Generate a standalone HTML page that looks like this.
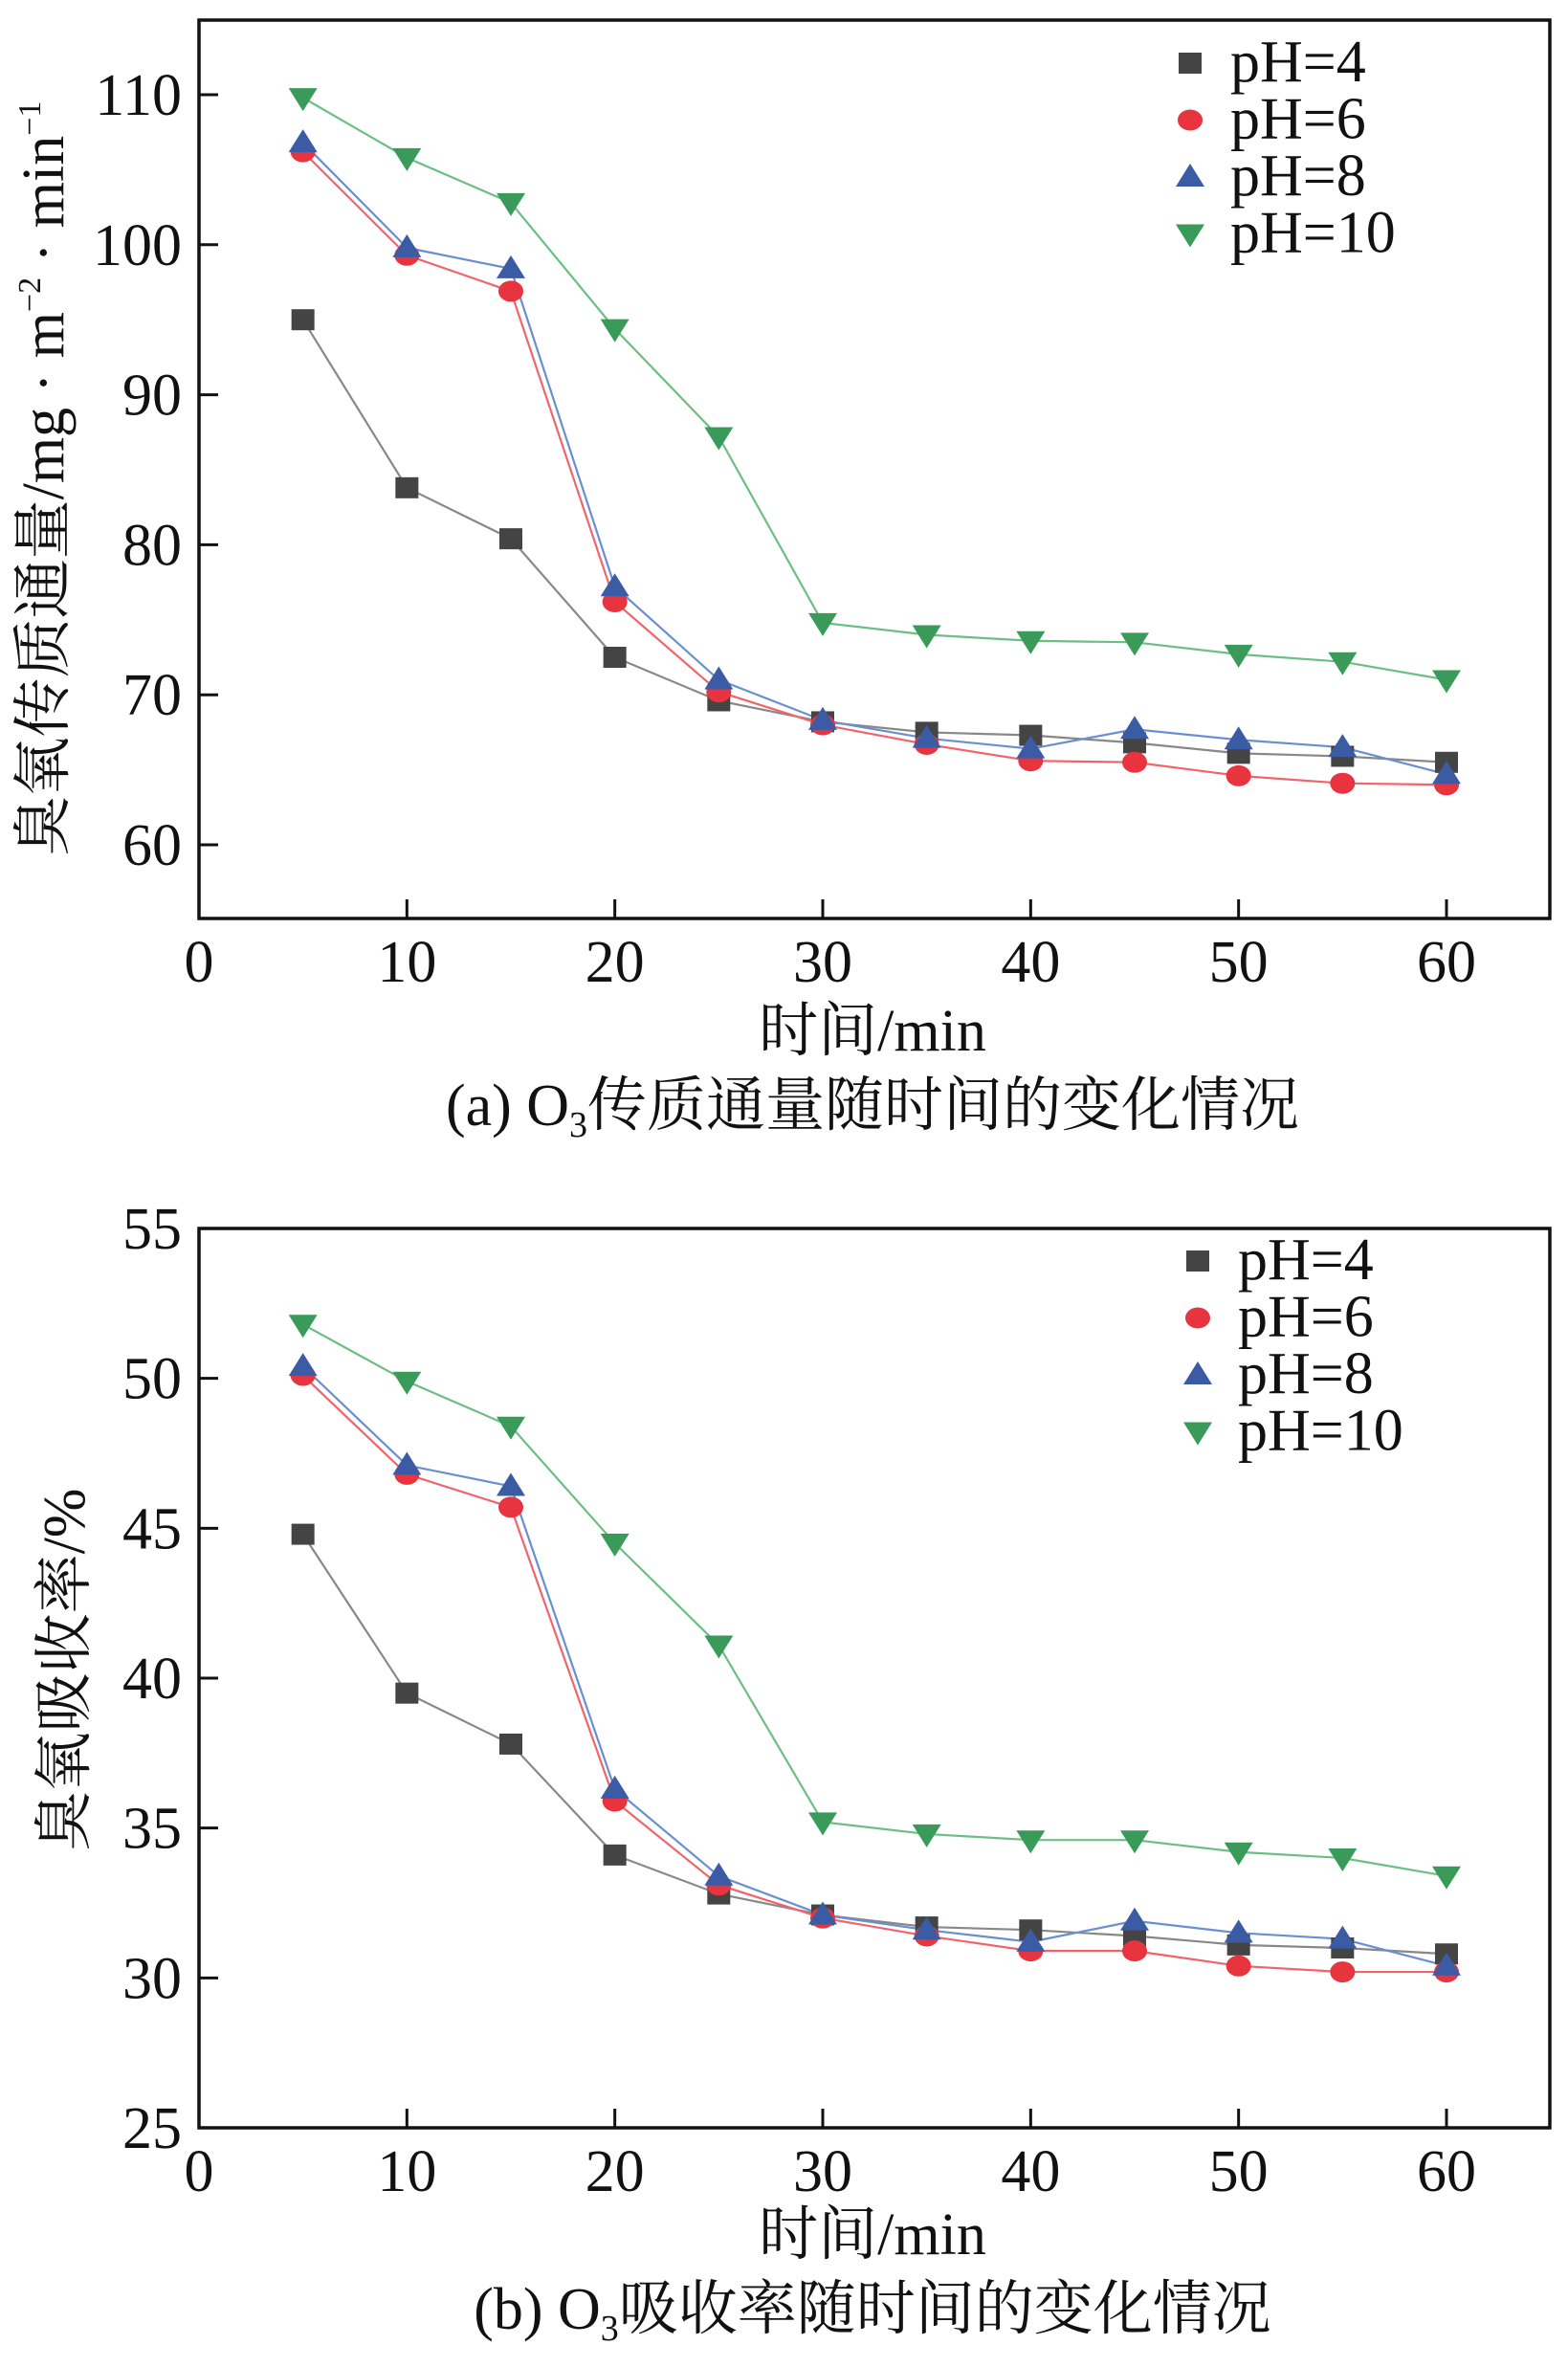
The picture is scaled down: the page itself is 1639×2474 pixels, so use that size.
<!DOCTYPE html>
<html><head><meta charset="utf-8"><style>
html,body{margin:0;padding:0;background:#fff}
svg{display:block}
text{font-family:"Liberation Serif","Noto Serif CJK SC","Noto Sans CJK SC",serif;fill:#111}
</style></head><body>
<svg id="fig" width="1639" height="2474" viewBox="0 0 1639 2474" xmlns="http://www.w3.org/2000/svg"></svg>
<script>
const times = [5,10,15,20,25,30,35,40,45,50,55,60];
const seriesLabels = ["pH=4","pH=6","pH=8","pH=10"];
const fluxPH4 = [95,83.8,80.4,72.5,69.6,68.2,67.5,67.3,66.8,66.1,65.9,65.5];
const fluxPH6 = [106.2,99.3,96.9,76.2,70.2,68.0,66.7,65.6,65.5,64.6,64.1,64.0];
const fluxPH8 = [106.8,99.8,98.4,77.2,71.0,68.3,67.1,66.4,67.7,67.0,66.5,64.7];
const fluxPH10 = [109.8,105.8,102.8,94.4,87.2,74.8,74.0,73.6,73.5,72.7,72.2,71.0];
const absPH4 = [44.8,39.5,37.8,34.1,32.8,32.1,31.7,31.6,31.4,31.1,31.0,30.8];
const absPH6 = [50.1,46.8,45.7,35.9,33.1,32.0,31.4,30.9,30.9,30.4,30.2,30.2];
const absPH8 = [50.4,47.1,46.4,36.3,33.4,32.1,31.6,31.2,31.9,31.5,31.3,30.4];
const absPH10 = [51.8,49.9,48.4,44.5,41.1,35.2,34.8,34.6,34.6,34.2,34.0,33.4];
const xTicks = [0,10,20,30,40,50,60];
const yTicksA = [60,70,80,90,100,110];
const yTicksB = [25,30,35,40,45,50,55];

const NS="http://www.w3.org/2000/svg";
const svg=document.getElementById('fig');
function mk(tag,attrs,parent){const e=document.createElementNS(NS,tag);for(const k in attrs)e.setAttribute(k,attrs[k]);(parent||svg).appendChild(e);return e;}
const colors=["#444","#e8343f","#3b5ba5","#3a9a5a"];
const lineColors=["#888","#f0646c","#6a8fd0","#6cbf84"];
const names=["ph4","ph6","ph8","ph10"];

function marker(g,k,x,y){
  let e;
  if(k===0){e=mk('rect',{x:x-12,y:y-11,width:24,height:22,fill:colors[0]},g);}
  else if(k===1){e=mk('ellipse',{cx:x,cy:y,rx:13,ry:11,fill:colors[1]},g);}
  else if(k===2){e=mk('polygon',{points:`${x-15},${y+10} ${x+15},${y+10} ${x},${y-14}`,fill:colors[2]},g);}
  else {e=mk('polygon',{points:`${x-15},${y-10} ${x+15},${y-10} ${x},${y+14}`,fill:colors[3]},g);}
  return e;
}

function chart(cfg){
  const g=mk('g',{});
  
  
  const L=208,R=1620,T=cfg.top,B=cfg.bottom;
  const xs=v=>208+(v/60)*(1512-208);
  const ys=v=>cfg.y0+(v-cfg.v0)*(cfg.y1-cfg.y0)/(cfg.v1-cfg.v0);
  const frame=mk('rect',{x:L,y:T,width:R-L,height:B-T,fill:'none',stroke:'#111','stroke-width':3.5},g);
  
  
  xTicks.forEach(t=>{
    const x=xs(t);
    if(t>0){const tl=mk('line',{x1:x,y1:B,x2:x,y2:B-20,stroke:'#111','stroke-width':3},g);
    }
    const tx=mk('text',{x:x,y:B+66,'text-anchor':'middle','font-size':62},g);
    tx.textContent=t;
    
    
  });
  cfg.yTicks.forEach(t=>{
    const y=ys(t);
    if(y>T+3&&y<B-3){const tl=mk('line',{x1:L,y1:y,x2:L+20,y2:y,stroke:'#111','stroke-width':3},g);
    }
    const tx=mk('text',{x:L-18,y:y+21,'text-anchor':'end','font-size':62},g);
    tx.textContent=t;
    
    
  });
  cfg.series.forEach((arr,k)=>{
    const pts=arr.map((v,i)=>xs(times[i])+','+ys(v)).join(' ');
    const pl=mk('polyline',{points:pts,fill:'none',stroke:lineColors[k],'stroke-width':2.2},g);
    
    
  });
  cfg.series.forEach((arr,k)=>{
    arr.forEach((v,i)=>{
      const m=marker(g,k,xs(times[i]),ys(v));
      
      
    });
  });
  seriesLabels.forEach((lab,k)=>{
    const y=cfg.legY+k*59.5;
    const m=marker(g,k,cfg.legX,y);
    
    
    const tx=mk('text',{x:cfg.legX+42,y:y+19,'font-size':62},g);
    tx.textContent=lab;
    
    
  });
  const xt=mk('text',{x:912,y:cfg.xTitleY,'text-anchor':'middle','font-size':62},g);
  xt.textContent='时间/min';
  
  
  const yt=mk('text',{x:0,y:0,'text-anchor':'middle','font-size':62,transform:`translate(${cfg.yTitleX},${cfg.yTitleY}) rotate(-90)`},g);
  yt.innerHTML=cfg.yTitle;
  
  
  const cap=mk('text',{x:912,y:cfg.capY,'text-anchor':'middle','font-size':62},g);
  cap.innerHTML=cfg.caption;
  
  
}

chart({id:'chart-a',top:21,bottom:960,v0:60,y0:883,v1:110,y1:99,yTicks:yTicksA,
  series:[fluxPH4,fluxPH6,fluxPH8,fluxPH10],legX:1244,legY:66,xTitleY:1098,
  yTitleX:66,yTitleY:500,yTitle:'臭氧传质通量/mg · m<tspan font-size="34" dy="-24">−2</tspan><tspan dy="24"> · min</tspan><tspan font-size="34" dy="-24">−1</tspan>',
  capY:1176,caption:'(a) O<tspan font-size="38" dy="12">3</tspan><tspan dy="-12">传质通量随时间的变化情况</tspan>'});
chart({id:'chart-b',top:1284,bottom:2224,v0:25,y0:2224,v1:55,y1:1284,yTicks:yTicksB,
  series:[absPH4,absPH6,absPH8,absPH10],legX:1252,legY:1318,xTitleY:2356,
  yTitleX:88,yTitleY:1745,yTitle:'臭氧吸收率/%',
  capY:2434,caption:'(b) O<tspan font-size="38" dy="12">3</tspan><tspan dy="-12">吸收率随时间的变化情况</tspan>'});
</script>
</body></html>
